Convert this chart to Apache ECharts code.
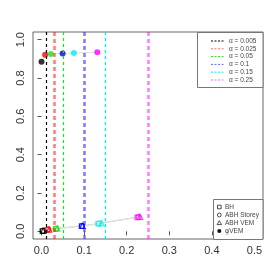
<!DOCTYPE html>
<html><head><meta charset="utf-8">
<script src="https://cdn.jsdelivr.net/npm/echarts@6/dist/echarts.min.js"></script>
<style>html,body{margin:0;padding:0;background:#fff}#c{width:280px;height:280px}</style>
</head><body><div id="c"></div>
<script>
// ---- data ----
const alphas = [0.005, 0.025, 0.05, 0.1, 0.15, 0.25];
const alphaLabels = ['α = 0.005', 'α = 0.025', 'α = 0.05', 'α = 0.1', 'α = 0.15', 'α = 0.25'];
const methodLabels = ['BH', 'ABH Storey', 'ABH VEM', 'φVEM'];
const bhX = [0.002, 0.013, 0.033, 0.094, 0.133, 0.225];
const bhY = [0.002, 0.008, 0.013, 0.027, 0.040, 0.073];
const storeyX = [0.003, 0.016, 0.035, 0.095, 0.135, 0.228];
const storeyY = [0.003, 0.010, 0.014, 0.028, 0.041, 0.075];
const vemX = [0.004, 0.018, 0.037, 0.096, 0.141, 0.231];
const vemY = [0.003, 0.010, 0.015, 0.029, 0.043, 0.076];
const phiX = [0.000, 0.0085, 0.022, 0.0495, 0.076, 0.131];
const phiY = [0.885, 0.921, 0.925, 0.928, 0.930, 0.935];
const xTicks = [0, 0.1, 0.2, 0.3, 0.4, 0.5];
const yTicks = [0, 0.2, 0.4, 0.6, 0.8, 1.0];

// ---- styles ----
const colors = ['#000000', '#FF0000', '#22DD22', '#0000FF', '#00EEEE', '#FF00FF'];
const vWidth = [1.2, 2.6, 1.2, 2.6, 1.2, 2.6];
const vOpacity = [1, 0.5, 1, 0.5, 1, 0.5];
const font = 'Liberation Sans, Arial, sans-serif';

const chart = echarts.init(document.getElementById('c'), null, {renderer: 'canvas'});

function zip(xs, ys) { return xs.map((x, i) => [x, ys[i]]); }
function lineSeries(xs, ys) {
  return {type: 'line', data: zip(xs, ys), symbol: 'none', z: 2,
    lineStyle: {color: '#dddddd', width: 1}, silent: true, animation: false};
}
function pointSeries(xs, ys, symbol, filled, size) {
  return {type: 'scatter', z: 4, animation: false, symbol: symbol, symbolSize: size,
    data: zip(xs, ys).map((p, i) => ({value: p, itemStyle: filled ?
      {color: colors[i]} : {color: 'rgba(255,255,255,0)', borderColor: colors[i], borderWidth: 1.1}}))};
}

const series = [
  {type: 'line', data: [], z: 1, animation: false,
    markLine: {silent: true, symbol: 'none', animation: false, label: {show: false},
      data: alphas.map((a, i) => ({xAxis: a, lineStyle: {color: colors[i], width: vWidth[i],
        opacity: vOpacity[i], type: vWidth[i] > 2 ? [4, 3] : [3, 3]}}))}},
  lineSeries(bhX, bhY), lineSeries(storeyX, storeyY), lineSeries(vemX, vemY), lineSeries(phiX, phiY),
  pointSeries(bhX, bhY, 'rect', false, 4.5),
  pointSeries(storeyX, storeyY, 'circle', false, 5),
  pointSeries(vemX, vemY, 'triangle', false, 5.5),
  pointSeries(phiX, phiY, 'circle', true, 6)
];

// legends (graphic)
const g = [];
g.push({type: 'rect', shape: {x: 197.5, y: 32.5, width: 65.5, height: 55}, style: {fill: '#fff', stroke: '#777', lineWidth: 1}, z: 10});
alphas.forEach((a, i) => {
  const y = 41 + i * 7.8;
  g.push({type: 'line', shape: {x1: 211, y1: y, x2: 224, y2: y}, style: {stroke: colors[i], lineWidth: 1, lineDash: [2, 1.5], opacity: vOpacity[i] < 1 ? 0.6 : 1}, z: 11});
  g.push({type: 'text', x: 229, y: y, style: {text: alphaLabels[i], fill: '#444', font: '6.5px ' + font, textVerticalAlign: 'middle'}, z: 11});
});
g.push({type: 'rect', shape: {x: 213.5, y: 199.5, width: 49.5, height: 40}, style: {fill: '#fff', stroke: '#777', lineWidth: 1}, z: 10});
const ly = [207, 215, 223, 231];
g.push({type: 'rect', shape: {x: 217.5, y: ly[0] - 1.8, width: 3.6, height: 3.6}, style: {fill: 'none', stroke: '#222', lineWidth: 0.8}, z: 11});
g.push({type: 'circle', shape: {cx: 219.3, cy: ly[1], r: 1.9}, style: {fill: 'none', stroke: '#222', lineWidth: 0.8}, z: 11});
g.push({type: 'polygon', shape: {points: [[219.3, ly[2] - 2.3], [221.5, ly[2] + 1.6], [217.1, ly[2] + 1.6]]}, style: {fill: 'none', stroke: '#222', lineWidth: 0.8}, z: 11});
g.push({type: 'circle', shape: {cx: 219.3, cy: ly[3], r: 2}, style: {fill: '#111'}, z: 11});
methodLabels.forEach((t, i) => {
  g.push({type: 'text', x: 225, y: ly[i], style: {text: t, fill: '#444', font: '6.5px ' + font, textVerticalAlign: 'middle'}, z: 11});
});

chart.setOption({
  animation: false,
  backgroundColor: '#fff',
  grid: {left: 33, right: 17, top: 32, bottom: 41, show: true, borderColor: '#666', borderWidth: 1, backgroundColor: 'transparent'},
  xAxis: {type: 'value', min: -0.02, max: 0.52, splitLine: {show: false},
    axisLine: {show: false},
    axisTick: {show: true, length: 4, customValues: xTicks, lineStyle: {color: '#555'}},
    axisLabel: {customValues: xTicks, margin: 6, color: '#333', fontSize: 11, fontFamily: font,
      formatter: v => v.toFixed(1)}},
  yAxis: {type: 'value', min: -0.04, max: 1.04, splitLine: {show: false},
    axisLine: {show: false},
    axisTick: {show: true, length: 4, customValues: yTicks, lineStyle: {color: '#555'}},
    axisLabel: {customValues: yTicks, margin: 7, rotate: 90, color: '#333', fontSize: 11, fontFamily: font,
      formatter: v => v.toFixed(1)}},
  series: series,
  graphic: g
});
</script>
</body></html>
